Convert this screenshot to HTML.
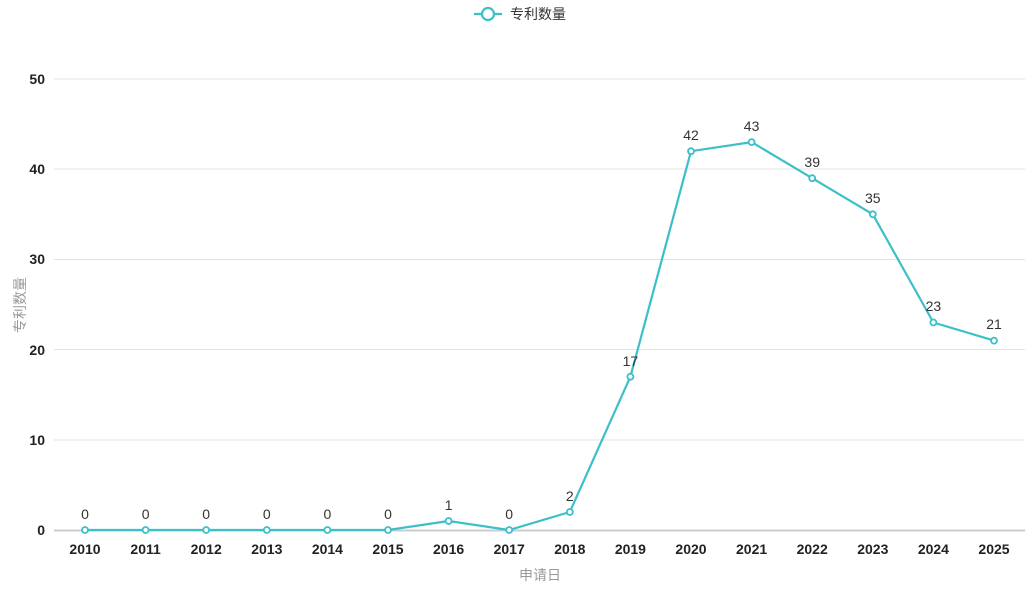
<!DOCTYPE html>
<html><head><meta charset="utf-8"><style>
html,body{margin:0;padding:0;background:#fff;}
svg{display:block;font-family:"Liberation Sans","Noto Sans CJK SC",sans-serif;}
</style></head><body>
<svg width="1030" height="608" viewBox="0 0 1030 608">
<g stroke="#e3e3e3" stroke-width="1">
<line x1="54" x2="1025" y1="79" y2="79"/>
<line x1="54" x2="1025" y1="169" y2="169"/>
<line x1="54" x2="1025" y1="259.5" y2="259.5"/>
<line x1="54" x2="1025" y1="349.5" y2="349.5"/>
<line x1="54" x2="1025" y1="440" y2="440"/>
</g>
<line x1="54" x2="1025" y1="530.5" y2="530.5" stroke="#ccc" stroke-width="2"/>
<g font-size="14" font-weight="bold" fill="#222" text-anchor="end">
<text x="45" y="84">50</text><text x="45" y="174">40</text><text x="45" y="264">30</text>
<text x="45" y="355">20</text><text x="45" y="445">10</text><text x="45" y="535">0</text>
</g>
<g font-size="14" font-weight="bold" fill="#222" text-anchor="middle">
<text x="85" y="554">2010</text><text x="145.6" y="554">2011</text><text x="206.2" y="554">2012</text><text x="266.8" y="554">2013</text>
<text x="327.4" y="554">2014</text><text x="388" y="554">2015</text><text x="448.6" y="554">2016</text><text x="509.2" y="554">2017</text>
<text x="569.8" y="554">2018</text><text x="630.4" y="554">2019</text><text x="691" y="554">2020</text><text x="751.6" y="554">2021</text>
<text x="812.2" y="554">2022</text><text x="872.8" y="554">2023</text><text x="933.4" y="554">2024</text><text x="994" y="554">2025</text>
</g>
<text x="540" y="580" font-size="14" fill="#999" text-anchor="middle">申请日</text>
<text transform="translate(25,305) rotate(-90)" font-size="14" fill="#999" text-anchor="middle">专利数量</text>
<polyline fill="none" stroke="#3bbfc9" stroke-width="2.2" points="85,530 145.6,530 206.2,530 266.8,530 327.4,530 388,530 448.6,521 509.2,530 569.8,512 630.4,376.7 691,151.2 751.6,142.1 812.2,178.2 872.8,214.3 933.4,322.5 994,340.6"/>
<g fill="#fff" stroke="#3bbfc9" stroke-width="1.8">
<circle cx="85" cy="530" r="3"/><circle cx="145.6" cy="530" r="3"/><circle cx="206.2" cy="530" r="3"/><circle cx="266.8" cy="530" r="3"/>
<circle cx="327.4" cy="530" r="3"/><circle cx="388" cy="530" r="3"/><circle cx="448.6" cy="521" r="3"/><circle cx="509.2" cy="530" r="3"/>
<circle cx="569.8" cy="512" r="3"/><circle cx="630.4" cy="376.7" r="3"/><circle cx="691" cy="151.2" r="3"/><circle cx="751.6" cy="142.1" r="3"/>
<circle cx="812.2" cy="178.2" r="3"/><circle cx="872.8" cy="214.3" r="3"/><circle cx="933.4" cy="322.5" r="3"/><circle cx="994" cy="340.6" r="3"/>
</g>
<g font-size="14" fill="#333" text-anchor="middle">
<text x="85" y="519">0</text><text x="145.6" y="519">0</text><text x="206.2" y="519">0</text><text x="266.8" y="519">0</text>
<text x="327.4" y="519">0</text><text x="388" y="519">0</text><text x="448.6" y="510">1</text><text x="509.2" y="519">0</text>
<text x="569.8" y="501">2</text><text x="630.4" y="366">17</text><text x="691" y="140">42</text><text x="751.6" y="131">43</text>
<text x="812.2" y="167">39</text><text x="872.8" y="203">35</text><text x="933.4" y="311">23</text><text x="994" y="329">21</text>
</g>
<line x1="474" x2="502" y1="14" y2="14" stroke="#3bbfc9" stroke-width="2.2"/>
<circle cx="488" cy="14" r="6" fill="#fff" stroke="#3bbfc9" stroke-width="2.2"/>
<text x="510" y="19" font-size="14" fill="#333">专利数量</text>
</svg>
</body></html>
